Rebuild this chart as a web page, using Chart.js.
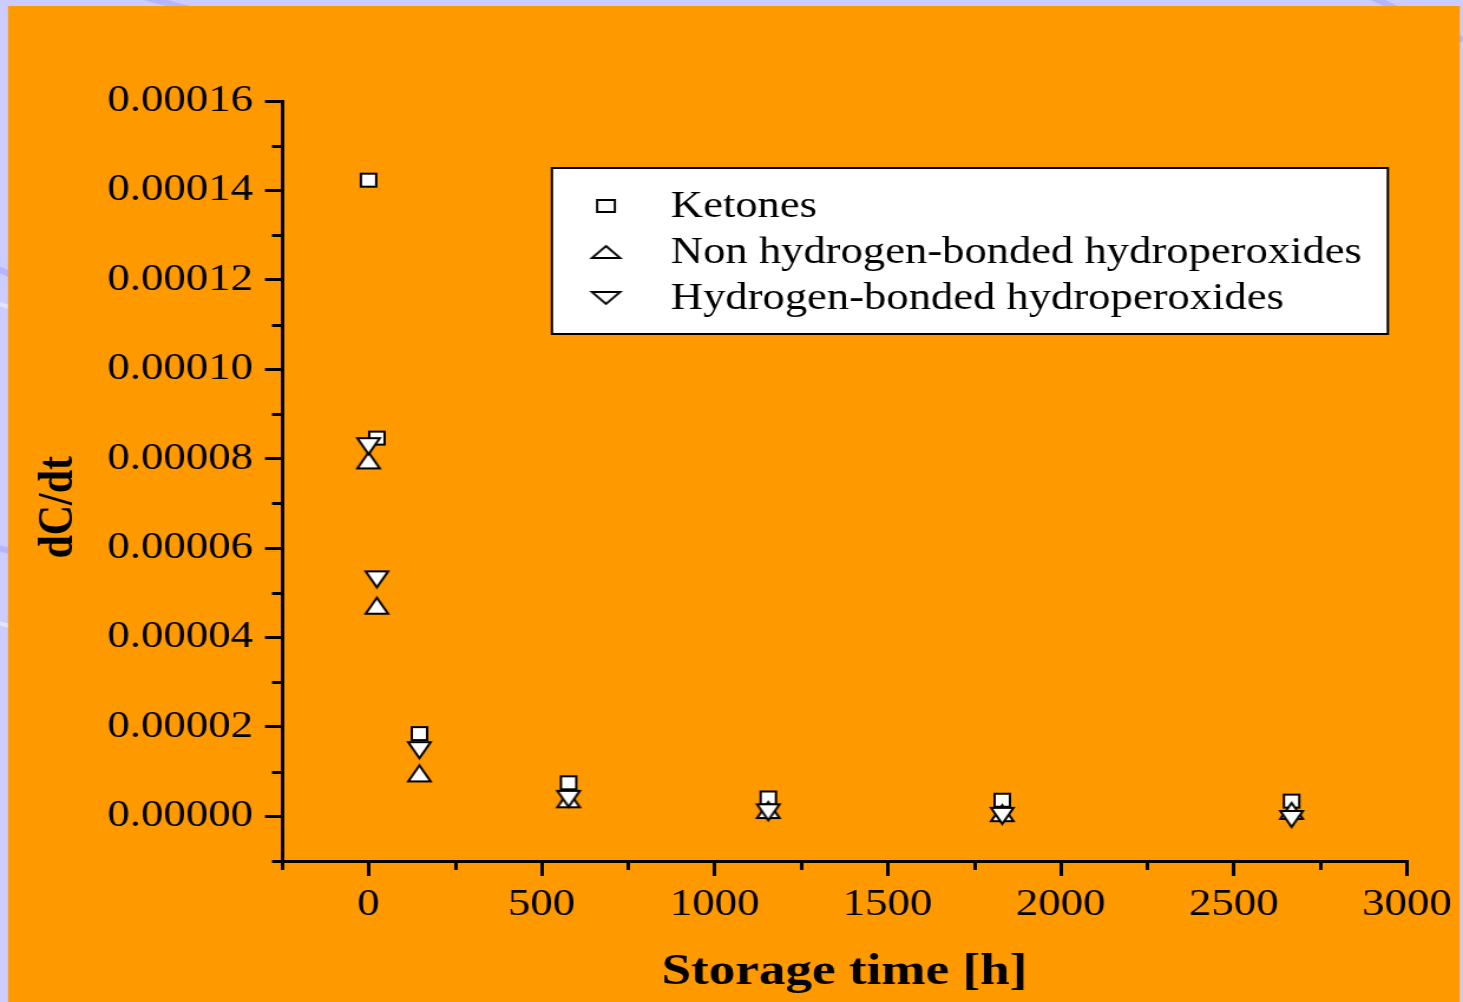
<!DOCTYPE html>
<html><head><meta charset="utf-8">
<script src="https://cdn.jsdelivr.net/npm/chart.js@4/dist/chart.umd.min.js"></script>
<style>
html,body{margin:0;padding:0;overflow:hidden;background:#ccccff;}
canvas{display:block;}
</style></head>
<body>
<canvas id="c" width="1240" height="1002" style="width:1463px;height:1002px"></canvas>
<script>
// ---- data ----
const storageHours = [0, 24, 147, 578, 1155, 1831, 2667];
const ketones      = [0.0001423, 0.0000846, 0.0000185, 0.0000075, 0.0000041, 0.0000036, 0.0000034];
const nonHBonded   = [0.0000796, 0.0000471, 0.0000096, 0.0000038, 0.0000014, 0.0000007, 0.0000012];
const hBonded      = [0.0000828, 0.0000530, 0.0000148, 0.0000039, 0.0000009, 0.0000001, -0.0000006];
const seriesLabels = ['Ketones', 'Non hydrogen-bonded hydroperoxides', 'Hydrogen-bonded hydroperoxides'];
const xTitle = 'Storage time [h]';
const yTitle = 'dC/dt';
const xRange = [-250, 3000];
const xTickValues = [0, 500, 1000, 1500, 2000, 2500, 3000];
const xMinorValues = [-250, 250, 750, 1250, 1750, 2250, 2750];
const yRange = [-0.00001, 0.00016];
const yTickValues = [0, 0.00002, 0.00004, 0.00006, 0.00008, 0.00010, 0.00012, 0.00014, 0.00016];
const yMinorValues = [-0.00001, 0.00001, 0.00003, 0.00005, 0.00007, 0.00009, 0.00011, 0.00013, 0.00015];

// ---- styling ----
const SERIF = '"Liberation Serif", "Times New Roman", serif';
const ORANGE = '#ff9900';
const LAV = '#ccccff';

function marker(type, w, h, lw) {
  const c = document.createElement('canvas');
  c.width = Math.ceil(w + lw * 2 + 2); c.height = Math.ceil(h + lw * 2 + 2);
  const g = c.getContext('2d');
  const x0 = (c.width - w) / 2, y0 = (c.height - h) / 2, cx = c.width / 2;
  g.beginPath();
  if (type === 'square') g.rect(x0, y0, w, h);
  else if (type === 'up') { g.moveTo(cx, y0); g.lineTo(x0 + w, y0 + h); g.lineTo(x0, y0 + h); g.closePath(); }
  else { g.moveTo(x0, y0); g.lineTo(x0 + w, y0); g.lineTo(cx, y0 + h); g.closePath(); }
  g.fillStyle = '#fff'; g.fill();
  g.lineWidth = lw; g.strokeStyle = '#000'; g.lineJoin = 'miter'; g.stroke();
  return c;
}
const mkSquare = marker('square', 13, 13, 2);
const mkUp = marker('up', 19, 16, 2);
const mkDown = marker('down', 19, 16, 2);
const lgSquare = marker('square', 15, 12, 1.9);
const lgUp = marker('up', 24, 12, 1.9);
const lgDown = marker('down', 24, 12, 1.9);
const legendMarkers = [lgSquare, lgUp, lgDown];

const toPts = arr => storageHours.map((x, i) => ({x: x, y: arr[i]}));

const bgPlugin = {
  id: 'bg',
  beforeDraw(chart) {
    const ctx = chart.ctx, W = chart.width, H = chart.height;
    ctx.save();
    ctx.fillStyle = LAV; ctx.fillRect(0, 0, W, H);
    ctx.strokeStyle = '#b4b4ff'; ctx.lineWidth = 6;
    [[100, -10, 170, 12], [1150, -10, 1240, 40], [-10, 265, 20, 280], [-10, 545, 20, 555]].forEach(l => {
      ctx.beginPath(); ctx.moveTo(l[0], l[1]); ctx.lineTo(l[2], l[3]); ctx.stroke();
    });
    ctx.strokeStyle = '#e4e4ff'; ctx.lineWidth = 4;
    [[-10, 300, 20, 312], [-10, 620, 20, 630]].forEach(l => {
      ctx.beginPath(); ctx.moveTo(l[0], l[1]); ctx.lineTo(l[2], l[3]); ctx.stroke();
    });
    ctx.fillStyle = ORANGE;
    ctx.fillRect(6.8, 6, 1237.3 - 6.8, H - 6);
    ctx.restore();
  }
};

const minorTicksPlugin = {
  id: 'minorTicks',
  afterDraw(chart) {
    const ctx = chart.ctx, xs = chart.scales.x, ys = chart.scales.y;
    const area = chart.chartArea;
    ctx.save();
    ctx.strokeStyle = '#000'; ctx.lineWidth = 3;
    xMinorValues.forEach(v => {
      const px = Math.round(xs.getPixelForValue(v)) + 0.5;
      ctx.beginPath(); ctx.moveTo(px, area.bottom); ctx.lineTo(px, area.bottom + 9); ctx.stroke();
    });
    yMinorValues.forEach(v => {
      const py = Math.round(ys.getPixelForValue(v)) + 0.5;
      ctx.beginPath(); ctx.moveTo(area.left - 8.5, py); ctx.lineTo(area.left, py); ctx.stroke();
    });
    ctx.restore();
  }
};

const legendBoxPlugin = {
  id: 'legendBox',
  afterDraw(chart) {
    const ctx = chart.ctx;
    const bx = 467.8, by = 168, bw = 1176.3 - 467.8, bh = 166;
    ctx.save();
    ctx.fillStyle = '#fff'; ctx.fillRect(bx, by, bw, bh);
    ctx.strokeStyle = '#000'; ctx.lineWidth = 2; ctx.strokeRect(bx, by, bw, bh);
    const markerY = [206, 252, 298];
    const baseY = [216.5, 263, 308.5];
    ctx.font = '37.8px ' + SERIF; ctx.fillStyle = '#000';
    ctx.textBaseline = 'alphabetic'; ctx.textAlign = 'left';
    chart.data.datasets.forEach((ds, i) => {
      const m = legendMarkers[i];
      ctx.drawImage(m, 513.6 - m.width / 2, markerY[i] - m.height / 2);
      ctx.fillText(ds.label, 568.6, baseY[i]);
    });
    ctx.restore();
  }
};

new Chart(document.getElementById('c'), {
  type: 'scatter',
  data: {
    datasets: [
      {label: seriesLabels[0], data: toPts(ketones), pointStyle: mkSquare, order: 2, showLine: false},
      {label: seriesLabels[1], data: toPts(nonHBonded), pointStyle: mkUp, order: 1, showLine: false},
      {label: seriesLabels[2], data: toPts(hBonded), pointStyle: mkDown, order: 0, showLine: false}
    ]
  },
  options: {
    responsive: false,
    animation: false,
    events: [],
    layout: {padding: {left: 0, right: 47.6, top: 101, bottom: 0}},
    plugins: {legend: {display: false}, tooltip: {enabled: false}},
    scales: {
      x: {
        type: 'linear', position: 'bottom', min: xRange[0], max: xRange[1],
        afterBuildTicks: s => { s.ticks = xTickValues.map(v => ({value: v})); },
        ticks: {autoSkip: false, maxRotation: 0, minRotation: 0, padding: 6,
          color: '#000', font: {family: SERIF, size: 38}, callback: v => String(v)},
        grid: {drawOnChartArea: false, drawTicks: true, tickLength: 15, lineWidth: 3, tickWidth: 3, color: '#000', tickColor: '#000'},
        border: {display: true, color: '#000', width: 3},
        title: {display: true, text: xTitle, color: '#000', font: {family: SERIF, size: 45, weight: 'bold'}, padding: {top: 0, bottom: 3}},
        afterFit: s => { s.height = 141; }
      },
      y: {
        type: 'linear', position: 'left', min: yRange[0], max: yRange[1],
        afterBuildTicks: s => { s.ticks = yTickValues.map(v => ({value: v})); },
        ticks: {autoSkip: false, padding: 10,
          color: '#000', font: {family: SERIF, size: 38}, callback: v => Number(v).toFixed(5)},
        grid: {drawOnChartArea: false, drawTicks: true, tickLength: 14.4, lineWidth: 3, tickWidth: 3, color: '#000', tickColor: '#000'},
        border: {display: true, color: '#000', width: 3},
        title: {display: true, text: yTitle + '     ', color: '#000', font: {family: SERIF, size: 42, weight: 'bold'}, padding: {top: 25.3, bottom: 0}},
        afterFit: s => { s.width = 239; }
      }
    }
  },
  plugins: [bgPlugin, minorTicksPlugin, legendBoxPlugin]
});
</script>
</body></html>
